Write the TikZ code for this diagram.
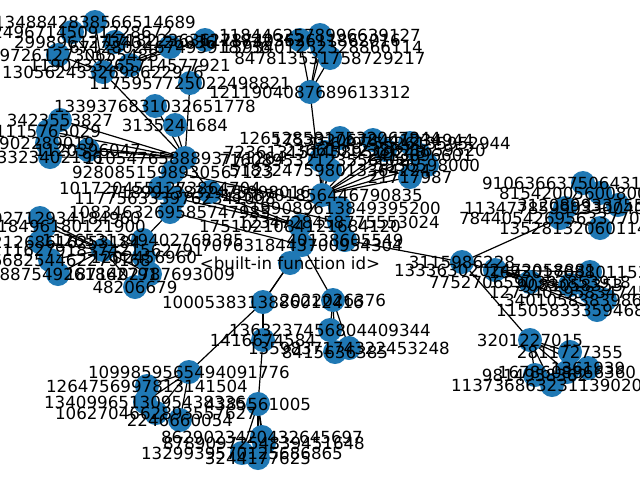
\documentclass[tikz,border=0pt]{standalone}
\usepackage{fontspec}
\setmainfont{DejaVu Sans}
\definecolor{nodeblue}{HTML}{1F78B4}
\begin{document}
\begin{tikzpicture}[x=1pt,y=-1pt,
  vtx/.style={circle,fill=nodeblue,minimum size=24pt,inner sep=0pt},
  lbl/.style={inner sep=0pt,font=\fontsize{16.7}{18}\selectfont},
  edge/.style={line width=1.2pt,black}]
\useasboundingbox (0,0) rectangle (640,480);
\fill[white] (0,0) rectangle (640,480);
\def\nodelist{ta/103/72/1305624332698622976,
tb/95/22/1348842838566514689,
tc/72/32/5724967145091228672,
td/58/55/4779972612730655488,
te/115/42/2998961273402126936,
tf/130/65/1190433265714577921,
tg/170/47/6712802467493918736,
th/205/40/1718223636128740352,
ti/190/83/1175957725022498821,
ma/310/92/1211904087689613312,
mb/300/40/1271822363611862016,
mc/330/58/847813531758729217,
md/322/47/1393401252328866114,
me/320/35/1184462578996639127,
la/185/158/1105476588893771264,
l1/155/106/1339376831032651778,
l2/175/125/3135241684,
l3/60/120/3423553827,
l4/48/131/1115765029,
l5/47/143/902289019,
l6/50/157/3323402196,
l7/88/150/1120396047,
lm1/173/172/9280851598930567123,
lm2/160/188/1017204551273864704,
lm3/175/198/1177563339762341008,
lm4/210/192/7189913832475998016,
lb/170/212/1083463269585747985,
lc/143/240/1126531399402768385,
ld/103/250/1162791837421562791,
le1/40/218/1225092712934184960,
le2/45/226/3440218496180121900,
le3/40/242/1406121268616253184,
le4/50/260/2566668254462279168,
le5/58/274/1371887549261862791,
le6/144/257/1202456960,
le7/135/287/48206679,
le8/150/274/1871402787693009,
ca/322/195/1858701856446790835,
u1/340/138/1265285817532067844,
u2/325/152/7236131514589519248,
u3/410/143/1564975526135952944,
u4/385/150/2366101238871659520,
u5/420/155/2413096601,
u6/410/177/21717987,
u7/427/165/5836598000,
u8/320/160/7160895321235566080,
u9/330/170/5183247598013364224,
u10/373/140/1753320678441234944,
cb/300/226/1751021084121684120,
cc/340/208/1199089613849395200,
cd/339/222/1234728458775553024,
ce/302/245/7076318443700954304,
cf/345/240/40138605549,
cg/290/263/<built-in function id>,
r0/462/262/3115986228,
r1/495/270/1333630202472058881,
r2/530/282/7752706590383853918,
r3/560/218/7844054269563377020,
r4/583/183/9106366375064317952,
r5/600/193/8154200560080082944,
r6/600/228/1352813206011469824,
r7/618/205/3120899337552625664,
r8/565/208/1134778599033004032,
r9/590/272/1693017088011536384,
r10/590/292/1273405958347452416,
r11/605/300/3401058383986257920,
r12/597/310/1150583335946889216,
r13/570/285/9083058353,
r14/530/340/3201227015,
r15/570/352/2811727355,
r16/535/375/9814958362,
r17/552/385/1137368632311390208,
r18/567/372/1678608866360,
r19/588/368/1361939,
b0/263/302/1000538313886012416,
b1/333/300/2022026376,
b2/263/340/1416674584,
b3/330/330/1363237456804409344,
b4/335/352/8415636385,
b5/349/348/1359837174322453248,
b6/189/372/1099859565494091776,
b7/147/386/1264756997813141504,
b8/145/402/1340996513095438336,
b9/156/413/1062704662893557627,
b10/180/420/2246660054,
b11/258/404/4385561005,
b12/262/437/8629023420432645697,
b13/242/453/1329939570125686865,
b14/258/458/3244177625,
b15/264/443/8789097254839451648}
\foreach \n/\x/\y/\t in \nodelist { \coordinate (\n) at (\x,\y); }
\foreach \a/\b in {ta/tb,ta/tc,ta/td,ta/te,ta/tf,ta/tg,ta/th,ta/la,ti/la,
  ma/mb,ma/mc,ma/md,ma/me,ma/ca,
  la/l1,la/l2,la/l3,la/l4,la/l5,la/l6,la/l7,la/lm1,la/lm2,la/lm3,la/lm4,la/lb,
  lb/lc,lc/ld,ld/le1,ld/le2,ld/le3,ld/le4,ld/le5,ld/le6,ld/le7,ld/le8,
  ca/u1,ca/u2,ca/u3,ca/u4,ca/u5,ca/u6,ca/u7,ca/u8,ca/u9,ca/u10,ca/cc,ca/cd,ca/cb,
  lm2/cb,lm3/cb,lm4/cb,lm4/cd,lb/ce,lm1/cc,
  cb/ce,cb/cg,cd/cf,cg/b0,ce/b0,ce/b1,b1/b3,b1/b4,b1/b5,
  b0/b2,b0/b6,b2/b11,
  b6/b7,b6/b8,b6/b9,b6/b10,
  b11/b12,b11/b13,b11/b14,b11/b15,
  cf/r0,r0/r1,r0/r3,r0/r14,
  r1/r2,r1/r9,r1/r10,r1/r11,r1/r12,r1/r13,
  r3/r4,r3/r5,r3/r6,r3/r7,r3/r8,
  r14/r15,r14/r16,r14/r17,r14/r18,r14/r19}
  { \draw[edge] (\a) -- (\b); }
\foreach \n/\x/\y/\t in \nodelist { \node[vtx] (\n-c) at (\n) {}; }
\foreach \n/\x/\y/\t in \nodelist { \node[lbl] (\n-l) at (\n) {\t}; }
\end{tikzpicture}
\end{document}
